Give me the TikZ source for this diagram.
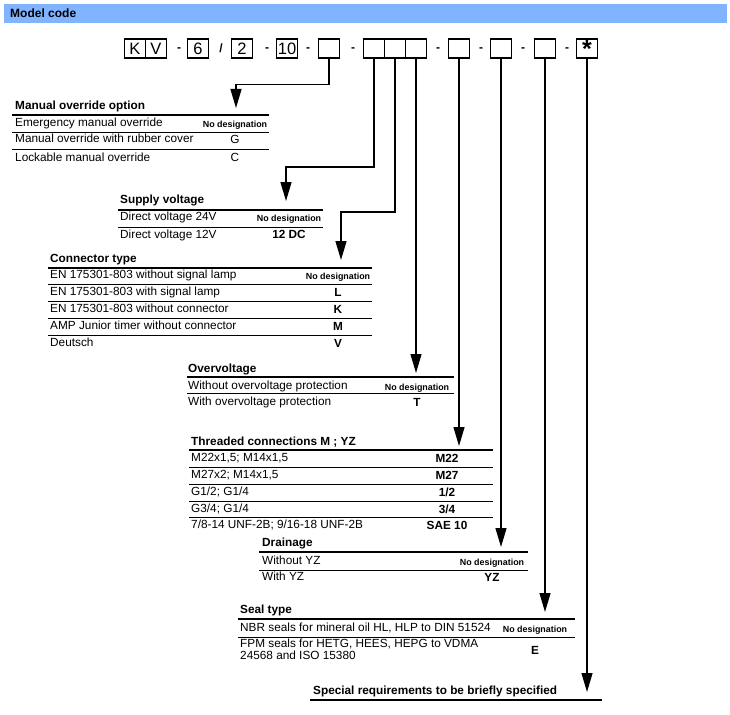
\documentclass[tikz,border=0pt]{standalone}
\usepackage{fontspec}
\setmainfont{Liberation Sans}
\usetikzlibrary{arrows.meta}
\definecolor{hdrblue}{RGB}{128,180,255}

\begin{document}
\begin{tikzpicture}[
    x=1pt, y=-1pt,
    hdrbar/.style={fill=hdrblue, minimum width=723pt, minimum height=19pt, inner sep=0pt},
    code/.style={draw, line width=1.4pt, minimum width=21pt, minimum height=19pt, inner sep=0pt, font=\fontsize{16.5}{16.5}\selectfont},
    sepmark/.style={inner sep=0pt, font=\bfseries\fontsize{12}{12}\selectfont},
    tabtitle/.style={anchor=base west, inner sep=0pt, font=\bfseries\fontsize{11.8}{14}\selectfont},
    item/.style={anchor=base west, inner sep=0pt, font=\fontsize{11.8}{12}\selectfont},
    val/.style={anchor=base, inner sep=0pt, font=\bfseries\fontsize{11.8}{14}\selectfont},
    rval/.style={val, font=\fontsize{11.8}{14}\selectfont},
    nodesg/.style={anchor=base, inner sep=0pt, font=\bfseries\fontsize{8.9}{10}\selectfont},
    toprule/.style={line width=1.6pt},
    rowrule/.style={line width=0.9pt},
    arrow/.style={-{Triangle[length=19pt, width=11pt]}, line width=1.3pt}
]
\path[fill=white, use as bounding box] (0,0) rectangle (730,714);

% header
\node[hdrbar] (hdr) at (365.5,13.5) {};
\node[tabtitle, font=\bfseries\fontsize{12}{14}\selectfont] (mc) at (10,18) {Model code};

% model code boxes
\node[code] (K) at (135,48.5) {K};
\node[code] (V) at (156,48.5) {V};
\node[sepmark] (s1) at (179,50) {-};
\node[code] (c6) at (198,48.5) {6};
\node[sepmark] (s2) at (221,48.5) {/};
\node[code] (c2) at (242,48.5) {2};
\node[sepmark] (s3) at (267,50) {-};
\node[code] (c10) at (287,48.5) {10};
\node[sepmark] (s4) at (308,50) {-};
\node[code] (e1) at (329,48.5) {};
\node[sepmark] (s5) at (353,50) {-};
\node[code] (t1) at (374,48.5) {};
\node[code] (t2) at (395,48.5) {};
\node[code] (t3) at (416,48.5) {};
\node[sepmark] (s6) at (438,50) {-};
\node[code] (b5) at (459,48.5) {};
\node[sepmark] (s7) at (481,50) {-};
\node[code] (b6) at (501,48.5) {};
\node[sepmark] (s8) at (523,50) {-};
\node[code] (b7) at (545,48.5) {};
\node[sepmark] (s9) at (567,50) {-};
\node[code, font=\bfseries\fontsize{25}{25}\selectfont] (star) at (587,48.5) {\raisebox{-3pt}{*}};

% manual override option
\node[tabtitle] (mo) at (15,110) {Manual override option};
\draw[toprule] (12,115) -- (269,115);
\draw[rowrule] (12,132) -- (269,132);
\draw[rowrule] (12,149) -- (269,149);
\node[item] (mo-i1) at (15,127) {Emergency manual override};
\node[item] (mo-i2) at (15,143) {Manual override with rubber cover};
\node[item] (mo-i3) at (15,161) {Lockable manual override};
\node[nodesg] (mo-v1) at (235,128) {No designation};
\node[rval] (mo-v2) at (235,144) {G};
\node[rval] (mo-v3) at (235,162) {C};
\coordinate (mo-in) at (236,108);

% supply voltage
\node[tabtitle] (sv) at (120,204) {Supply voltage};
\draw[toprule] (118,210) -- (323,210);
\draw[rowrule] (118,227) -- (323,227);
\node[item] (sv-i1) at (120,220) {Direct voltage 24V};
\node[item] (sv-i2) at (120,238) {Direct voltage 12V};
\node[nodesg] (sv-v1) at (289,221) {No designation};
\node[val] (sv-v2) at (289,238) {12 DC};
\coordinate (sv-in) at (286,201);

% connector type
\node[tabtitle] (ct) at (50,262) {Connector type};
\draw[toprule] (48,268) -- (372,268);
\draw[rowrule] (48,284) -- (372,284);
\draw[rowrule] (48,301) -- (372,301);
\draw[rowrule] (48,318) -- (372,318);
\draw[rowrule] (48,335) -- (372,335);
\node[item] (ct-i1) at (50,278) {EN 175301-803 without signal lamp};
\node[item] (ct-i2) at (50,295) {EN 175301-803 with signal lamp};
\node[item] (ct-i3) at (50,312) {EN 175301-803 without connector};
\node[item] (ct-i4) at (50,329) {AMP Junior timer without connector};
\node[item] (ct-i5) at (50,346) {Deutsch};
\node[nodesg] (ct-v1) at (338,279) {No designation};
\node[val] (ct-v2) at (338,296) {L};
\node[val] (ct-v3) at (338,313) {K};
\node[val] (ct-v4) at (338,330) {M};
\node[val] (ct-v5) at (338,347) {V};
\coordinate (ct-in) at (341,260);

% overvoltage
\node[tabtitle] (ov) at (188,372) {Overvoltage};
\draw[toprule] (187,377) -- (454,377);
\draw[rowrule] (187,393) -- (454,393);
\node[item] (ov-i1) at (188,389) {Without overvoltage protection};
\node[item] (ov-i2) at (188,405) {With overvoltage protection};
\node[nodesg] (ov-v1) at (417,390) {No designation};
\node[val] (ov-v2) at (417,406) {T};
\coordinate (ov-in) at (416,373);

% threaded connections
\node[tabtitle] (tc) at (191,445) {Threaded connections M ; YZ};
\draw[toprule] (189,450) -- (493,450);
\draw[rowrule] (189,467) -- (493,467);
\draw[rowrule] (189,484) -- (493,484);
\draw[rowrule] (189,501) -- (493,501);
\draw[rowrule] (189,517) -- (493,517);
\node[item] (tc-i1) at (191,461) {M22x1,5; M14x1,5};
\node[item] (tc-i2) at (191,478) {M27x2; M14x1,5};
\node[item] (tc-i3) at (191,495) {G1/2; G1/4};
\node[item] (tc-i4) at (191,512) {G3/4; G1/4};
\node[item] (tc-i5) at (191,528) {7/8-14 UNF-2B; 9/16-18 UNF-2B};
\node[val] (tc-v1) at (447,462) {M22};
\node[val] (tc-v2) at (447,479) {M27};
\node[val] (tc-v3) at (447,496) {1/2};
\node[val] (tc-v4) at (447,513) {3/4};
\node[val] (tc-v5) at (447,529) {SAE 10};
\coordinate (tc-in) at (459,446);

% drainage
\node[tabtitle] (dr) at (262,546) {Drainage};
\draw[toprule] (259,552) -- (528,552);
\draw[rowrule] (259,570) -- (528,570);
\node[item] (dr-i1) at (262,564) {Without YZ};
\node[item] (dr-i2) at (262,580) {With YZ};
\node[nodesg] (dr-v1) at (492,565) {No designation};
\node[val] (dr-v2) at (492,581) {YZ};
\coordinate (dr-in) at (501,547);

% seal type
\node[tabtitle] (st) at (240,613) {Seal type};
\draw[toprule] (238,619) -- (575,619);
\draw[rowrule] (238,637) -- (575,637);
\node[item] (st-i1) at (240,631) {NBR seals for mineral oil HL, HLP to DIN 51524};
\node[item, anchor=north west, align=left] (st-i2) at (240,638.4) {FPM seals for HETG, HEES, HEPG to VDMA\\24568 and ISO 15380};
\node[nodesg] (st-v1) at (535,632) {No designation};
\node[val] (st-v2) at (535,654) {E};
\coordinate (st-in) at (545,612);

% special requirements
\node[tabtitle] (sp) at (313,694) {Special requirements to be briefly specified};
\draw[toprule] (310,700) -- (602,700);
\coordinate (sp-in) at (587,692);

% connectors
\draw[arrow] (e1.south) -- ++(0,25.5) -| (mo-in);
\draw[arrow] (t1.south) -- ++(0,108.4) -| (sv-in);
\draw[arrow] (t2.south) -- ++(0,153.4) -| (ct-in);
\draw[arrow] (t3.south) -- (ov-in);
\draw[arrow] (b5.south) -- (tc-in);
\draw[arrow] (b6.south) -- (dr-in);
\draw[arrow] (b7.south) -- (st-in);
\draw[arrow] (star.south) -- (sp-in);

\end{tikzpicture}
\end{document}
